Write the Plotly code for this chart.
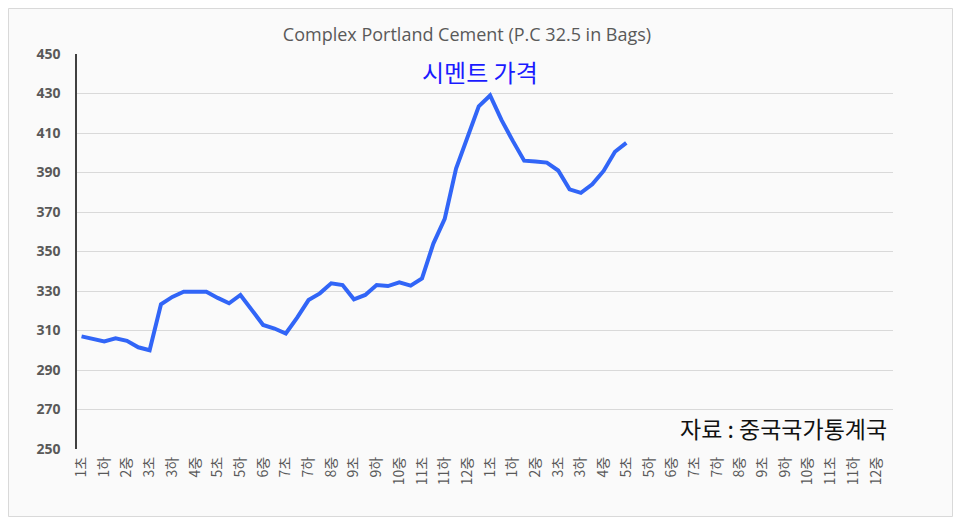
import plotly.graph_objects as go

# 72 categories: 2 years x 12 months x (초, 중, 하)
parts = ["초", "중", "하"]
categories = [f"{m}{p}" for _ in range(2) for m in range(1, 13) for p in parts]

prices = [307, 306, 304.5, 306, 304.8, 301.5, 300, 323.3, 327, 329.6,
          329.6, 329.6, 326.5, 323.8, 328, 320, 312.8, 311, 308.5, 316.5,
          325.4, 328.8, 333.9, 333, 325.8, 328, 333, 332.5, 334.4, 332.7,
          336.4, 354, 366.5, 392, 407.5, 423.5, 429, 416.6, 406, 396,
          395.6, 395, 391, 381.5, 379.7, 384, 390.8, 400.5, 405]

title_text = "Complex Portland Cement (P.C 32.5 in Bags)"
subtitle_text = "시멘트 가격"
source_text = "자료 : 중국국가통계국"

x_idx = list(range(len(prices)))
tick_idx = list(range(0, len(categories), 2))
tick_lbl = [categories[i] for i in tick_idx]

fig = go.Figure()
fig.add_trace(go.Scatter(
    x=x_idx, y=prices, mode="lines",
    line=dict(color="#3165f7", width=4),
    hoverinfo="y", showlegend=False,
))

OFF = 8  # page body margin
W, H = 945, 509
L, T = 77 - OFF, 54 - OFF
R = W - (893 - OFF)
B = H - (449 - OFF)
pw, ph = W - L - R, H - T - B

def px_x(p):
    return (p - OFF - L) / pw

def px_y(p):
    return (H - B - (p - OFF)) / ph

fig.update_layout(
    width=W, height=H,
    margin=dict(l=L, r=R, t=T, b=B),
    paper_bgcolor="#fafafa", plot_bgcolor="#fafafa",
    title=dict(text=title_text, x=(467 - OFF) / W, xanchor="center", xref="container",
               y=1 - (35 - OFF) / H, yanchor="middle", yref="container",
               font=dict(family="Open Sans", size=18, color="#595959")),
    xaxis=dict(range=[-0.4, 71.5], tickmode="array", tickvals=tick_idx,
               ticktext=tick_lbl, tickangle=-90, showgrid=False,
               showline=False, zeroline=False, ticks="",
               ticklabelstandoff=4,
               tickfont=dict(family="Noto Sans CJK KR", size=14, color="#595959")),
    yaxis=dict(range=[250, 450], dtick=20, tick0=250, showgrid=True,
               gridcolor="#d9d9d9", gridwidth=1, zeroline=False,
               showline=True, linecolor="#404040", linewidth=1.5, ticks="",
               ticklabelstandoff=12,
               tickfont=dict(family="Open Sans", size=14, color="#595959", weight="bold")),
    annotations=[
        dict(text=subtitle_text, x=px_x(480), y=px_y(71), xref="paper", yref="paper",
             showarrow=False, xanchor="center", yanchor="middle",
             font=dict(family="Noto Sans CJK KR", size=24, color="#1a1aff")),
        dict(text=source_text, x=px_x(889), y=px_y(428), xref="paper", yref="paper",
             showarrow=False, xanchor="right", yanchor="middle",
             font=dict(family="Noto Sans CJK KR", size=23, color="#111111")),
    ],
    shapes=[
        dict(type="rect", xref="paper", yref="paper",
             x0=px_x(8.5), x1=px_x(952.5), y0=px_y(516.5), y1=px_y(8.5),
             line=dict(color="#d9d9d9", width=1), fillcolor="rgba(0,0,0,0)",
             layer="below"),
    ],
)

fig.write_html("out.html")
